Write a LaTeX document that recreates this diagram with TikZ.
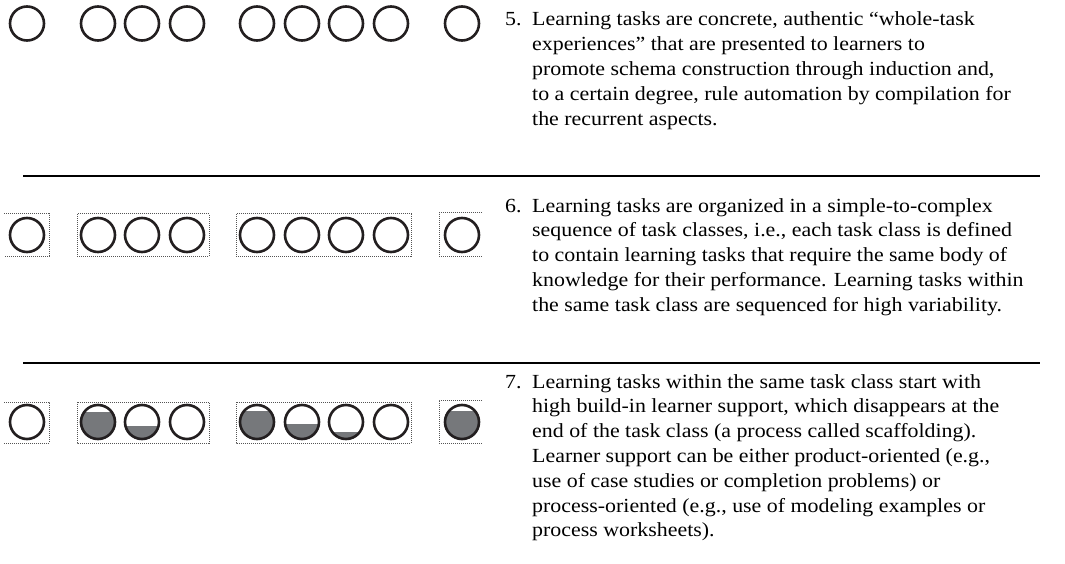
\documentclass[tikz,border=0pt]{standalone}
\usepackage{fontspec}
\setmainfont[FakeStretch=1.095]{Liberation Serif}
\definecolor{ink}{HTML}{231F20}
\definecolor{supportgray}{HTML}{76787B}
\definecolor{dotc}{HTML}{555555}
\begin{document}
\begin{tikzpicture}[x=1pt,y=-1pt,
  task/.style={circle,draw=ink,line width=2.6pt,minimum size=34pt,inner sep=0pt},
  classbox/.style={draw=dotc,line width=1pt,dash pattern=on 1pt off 1pt},
  sep/.style={draw=black,line width=1.2pt},
  numtxt/.style={anchor=base west,inner sep=0pt,font=\fontsize{20}{24.8}\selectfont},
  bodytxt/.style={anchor=base west,inner sep=0pt,align=left,font=\fontsize{20}{24.8}\selectfont}]
\useasboundingbox (0,0) rectangle (1065,564);
% row 1
\foreach \x [count=\i] in {27,98,142,187,257,302,346,391,462}
  \node[task] (a\i) at (\x,23.5) {};
% row 2
\draw[sep] (23,176) -- (1040,176);
\draw[classbox] (4,214) -- (49,214) -- (49,256) -- (4,256);
\draw[classbox] (77,214) rectangle (209,256);
\draw[classbox] (236,214) rectangle (411,256);
\draw[classbox] (482,213) -- (439,213) -- (439,256) -- (482,256);
\foreach \x [count=\i] in {27,98,142,187,257,302,346,391,462}
  \node[task] (b\i) at (\x,235) {};
% row 3
\draw[sep] (23,363) -- (1040,363);
\draw[classbox] (4,402) -- (49,402) -- (49,443) -- (4,443);
\draw[classbox] (77,402) rectangle (209,443);
\draw[classbox] (236,402) rectangle (411,443);
\draw[classbox] (482,400) -- (439,400) -- (439,443) -- (482,443);
\foreach \x/\lev in {98/412,142/425.7,257/411,302/424,346/431.7,462/411}{
  \begin{scope}
    \clip (\x,422) circle (18pt);
    \fill[supportgray] (\x-20,\lev) rectangle (\x+20,442);
  \end{scope}
}
\foreach \x [count=\i] in {27,98,142,187,257,302,346,391,462}
  \node[task] (c\i) at (\x,422) {};
% texts (base anchor = last line's baseline)
\node[numtxt] (n5) at (505,26) {5.};
\node[bodytxt] (t5) at (532,125.2) {Learning tasks are concrete, authentic “whole-task\\experiences” that are presented to learners to\\promote schema construction through induction and,\\to a certain degree, rule automation by compilation for\\the recurrent aspects.};
\node[numtxt] (n6) at (505,212) {6.};
\node[bodytxt] (t6) at (532,311.2) {Learning tasks are organized in a simple-to-complex\\sequence of task classes, i.e., each task class is defined\\to contain learning tasks that require the same body of\\knowledge for their performance. Learning tasks within\\the same task class are sequenced for high variability.};
\node[numtxt] (n7) at (505,388) {7.};
\node[bodytxt] (t7) at (532,536.8) {Learning tasks within the same task class start with\\high build-in learner support, which disappears at the\\end of the task class (a process called scaffolding).\\Learner support can be either product-oriented (e.g.,\\use of case studies or completion problems) or\\process-oriented (e.g., use of modeling examples or\\process worksheets).};
\end{tikzpicture}
\end{document}
